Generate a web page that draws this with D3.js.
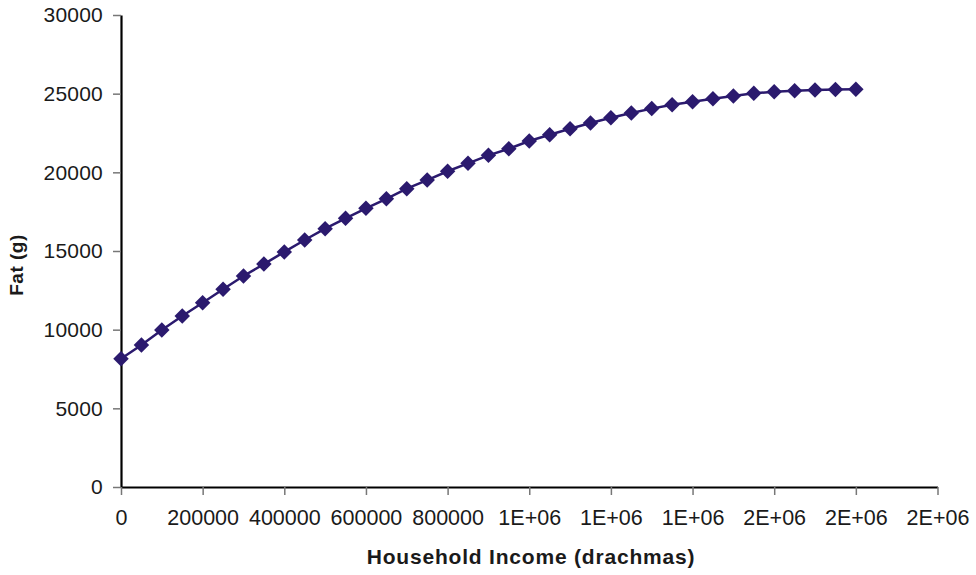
<!DOCTYPE html>
<html>
<head>
<meta charset="utf-8">
<script src="https://cdn.jsdelivr.net/npm/d3@7/dist/d3.min.js"></script>
<style>
  html, body { margin: 0; padding: 0; background: #fff; }
  svg { display: block; font-family: "Liberation Sans", Arial, sans-serif; }
</style>
</head>
<body>
<svg id="chart" width="976" height="575"></svg>
<script>
// Household income (drachmas), one point every 50 000
const incomes = [
  0, 50000, 100000, 150000, 200000, 250000, 300000, 350000, 400000, 450000,
  500000, 550000, 600000, 650000, 700000, 750000, 800000, 850000, 900000, 950000,
  1000000, 1050000, 1100000, 1150000, 1200000, 1250000, 1300000, 1350000, 1400000, 1450000,
  1500000, 1550000, 1600000, 1650000, 1700000, 1750000, 1800000
];
// Fat (g)
const fat = [
  8150, 9030, 9980, 10870, 11710, 12570, 13410, 14170, 14940, 15700,
  16420, 17080, 17710, 18320, 18960, 19510, 20070, 20570, 21080, 21500,
  21990, 22390, 22770, 23140, 23470, 23770, 24050, 24300, 24490, 24680,
  24850, 25020, 25120, 25190, 25230, 25270, 25280
];
const xTickValues = [0, 200000, 400000, 600000, 800000, 1000000, 1200000, 1400000, 1600000, 1800000, 2000000];
const xTickLabels = ["0", "200000", "400000", "600000", "800000", "1E+06", "1E+06", "1E+06", "2E+06", "2E+06", "2E+06"];
const yTickValues = [0, 5000, 10000, 15000, 20000, 25000, 30000];
const yTickLabels = ["0", "5000", "10000", "15000", "20000", "25000", "30000"];

const svg = d3.select("#chart");
const plotLeft = 121, plotRight = 937.5, plotTop = 15, plotBottom = 487;

const x = d3.scaleLinear().domain([0, 2000000]).range([plotLeft, plotRight]);
const y = d3.scaleLinear().domain([0, 30000]).range([plotBottom, plotTop]);

const seriesColor = "#2b1a6e";
const textColor = "#1a1a1a";

// Y axis
const yAxis = d3.axisLeft(y)
  .tickValues(yTickValues)
  .tickFormat((d, i) => yTickLabels[i])
  .tickSize(8)
  .tickPadding(10)
  .tickSizeOuter(0);
const gy = svg.append("g").attr("transform", `translate(${plotLeft},0)`).call(yAxis);
gy.select(".domain").attr("stroke", "#000").attr("stroke-width", 2.2);
gy.selectAll(".tick line").attr("stroke", "#777").attr("stroke-width", 1.5);
gy.selectAll(".tick text").attr("font-size", 21).attr("letter-spacing", 0.2).attr("fill", textColor)
  .attr("font-family", "Liberation Sans, Arial, sans-serif");

// X axis
const xAxis = d3.axisBottom(x)
  .tickValues(xTickValues)
  .tickFormat((d, i) => xTickLabels[i])
  .tickSize(8)
  .tickPadding(15)
  .tickSizeOuter(0);
const gx = svg.append("g").attr("transform", `translate(0,${plotBottom})`).call(xAxis);
gx.select(".domain").attr("stroke", "#000").attr("stroke-width", 2.2);
gx.selectAll(".tick line").attr("stroke", "#777").attr("stroke-width", 1.5);
gx.selectAll(".tick text").attr("font-size", 21.5).attr("fill", textColor)
  .attr("font-family", "Liberation Sans, Arial, sans-serif");

// Axis titles
svg.append("text")
  .attr("x", 531)
  .attr("y", 564)
  .attr("text-anchor", "middle")
  .attr("font-size", 21)
  .attr("letter-spacing", 0.8)
  .attr("font-weight", "bold")
  .attr("fill", textColor)
  .text("Household Income (drachmas)");

svg.append("text")
  .attr("transform", `translate(23,265) rotate(-90)`)
  .attr("text-anchor", "middle")
  .attr("font-size", 19)
  .attr("letter-spacing", 0.5)
  .attr("font-weight", "bold")
  .attr("fill", textColor)
  .text("Fat (g)");

// Series line
const data = incomes.map((v, i) => ({ inc: v, fat: fat[i] }));
svg.append("path")
  .datum(data)
  .attr("fill", "none")
  .attr("stroke", seriesColor)
  .attr("stroke-width", 2.5)
  .attr("d", d3.line().x(d => x(d.inc)).y(d => y(d.fat)));

// Diamond markers
const diamond = d3.symbol().type(d3.symbolSquare).size(120);
svg.append("g").selectAll("path")
  .data(data)
  .join("path")
  .attr("d", diamond)
  .attr("fill", seriesColor)
  .attr("transform", d => `translate(${x(d.inc)},${y(d.fat)}) rotate(45)`);
</script>
</body>
</html>
